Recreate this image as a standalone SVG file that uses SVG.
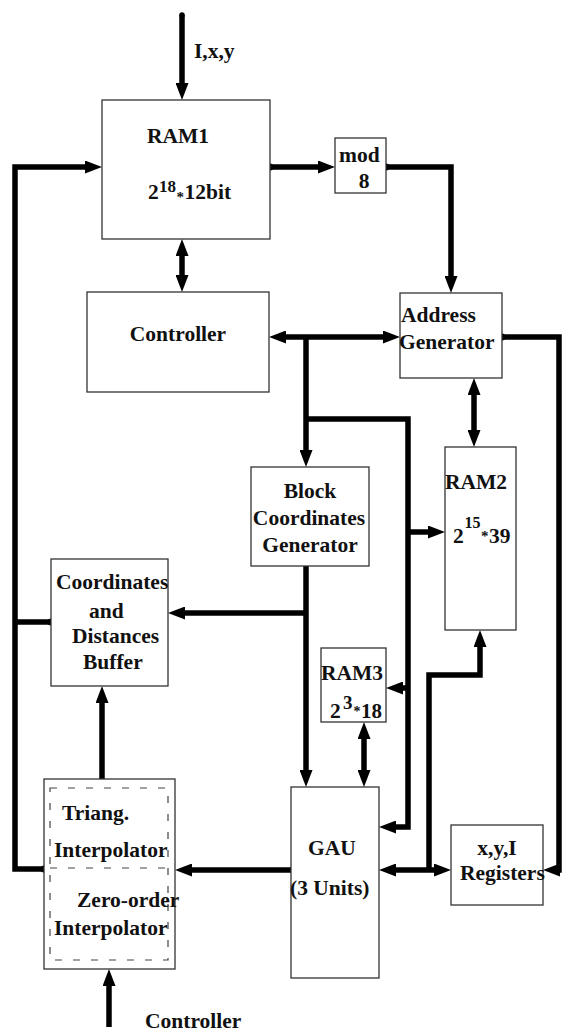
<svg xmlns="http://www.w3.org/2000/svg" width="563" height="1032" viewBox="0 0 563 1032">
<style>
.box{fill:#fff;stroke:#333;stroke-width:1.3}
.dash{fill:none;stroke:#444;stroke-width:1.2;stroke-dasharray:7 11}
.t{font-family:"Liberation Serif","Times New Roman",serif;font-weight:bold;font-size:21.5px;fill:#111}
.c{text-anchor:middle}
.w{fill:none;stroke:#000;stroke-width:5.5;stroke-linejoin:miter;stroke-linecap:butt}
.a{marker-end:url(#ah)}
.b{marker-start:url(#ah);marker-end:url(#ah)}
.dot{fill:#000}
</style>
<defs>
<marker id="ah" viewBox="0 0 17 13" refX="9" refY="6.5" markerWidth="17" markerHeight="13" markerUnits="userSpaceOnUse" orient="auto-start-reverse">
<path d="M0,0 L17,6.5 L0,13 z" fill="#000"/>
</marker>
</defs>
<rect width="563" height="1032" fill="#fff"/>

<g id="connectors">
<path class="w a" d="M182,15 V92"/>
<circle class="dot" cx="182" cy="15" r="2.75"/>
<path class="w a" d="M44,869 H15 V167 H94"/>
<path class="w" d="M15,622 H51"/>
<path class="w a" d="M270,167 H327"/>
<path class="w a" d="M386,167 H451 V285"/>
<path class="w b" d="M182,247 V284"/>
<path class="w b" d="M277,337 H392"/>
<path class="w a" d="M306,337 V459"/>
<path class="w a" d="M306,419 H408 V827 H387"/>
<path class="w a" d="M408,532 H437"/>
<path class="w a" d="M408,688 H394"/>
<path class="w b" d="M474,386 V439"/>
<path class="w a" d="M502,337 H559 V870 H551"/>
<path class="w a" d="M306,566 V779"/>
<path class="w a" d="M306,613 H176"/>
<path class="w b" d="M364,730 V779"/>
<path class="w b" d="M387,870 H443"/>
<path class="w a" d="M429,870 V675 H480 V638"/>
<path class="w a" d="M293,870 H183"/>
<path class="w a" d="M102,779 V694"/>
<path class="w a" d="M109,1027 V977"/>
<circle class="dot" cx="270" cy="167" r="3.5"/>
<circle class="dot" cx="386" cy="167" r="3.5"/>
<circle class="dot" cx="502" cy="337" r="3.5"/>
<circle class="dot" cx="51" cy="622" r="3.5"/>
<circle class="dot" cx="44" cy="869" r="3.5"/>
<circle class="dot" cx="293" cy="870" r="3.5"/>
<text class="t" x="194" y="58">I,x,y</text>
<text class="t" x="145" y="1028">Controller</text>
</g>

<g id="ram1">
<rect class="box" x="102" y="100" width="168" height="139"/>
<text class="t c" x="178" y="143">RAM1</text>
<text class="t"><tspan x="148" y="199">2</tspan><tspan x="159" y="192" font-size="17">18</tspan><tspan x="176.5" y="202" font-size="15">*</tspan><tspan x="184.5" y="199">12bit</tspan></text>
</g>

<g id="mod8">
<rect class="box" x="335" y="138" width="51" height="55"/>
<text class="t" x="339" y="162">mod</text>
<text class="t c" x="364" y="188">8</text>
</g>

<g id="controller">
<rect class="box" x="87" y="292" width="182" height="100"/>
<text class="t c" x="178" y="341">Controller</text>
</g>

<g id="addrgen">
<rect class="box" x="400" y="293" width="102" height="85"/>
<text class="t" x="401" y="322">Address</text>
<text class="t" x="399" y="349">Generator</text>
</g>

<g id="ram2">
<rect class="box" x="445" y="447" width="71" height="183"/>
<text class="t c" x="476" y="489">RAM2</text>
<text class="t"><tspan x="453" y="543">2</tspan><tspan x="464.5" y="528" font-size="16">15</tspan><tspan x="481" y="541" font-size="15">*</tspan><tspan x="489" y="543">39</tspan></text>
</g>

<g id="blockgen">
<rect class="box" x="251" y="467" width="118" height="99"/>
<text class="t c" x="310" y="498">Block</text>
<text class="t c" x="309" y="525">Coordinates</text>
<text class="t c" x="310" y="552">Generator</text>
</g>

<g id="buffer">
<rect class="box" x="51" y="559" width="117" height="127"/>
<text class="t" x="56" y="589">Coordinates</text>
<text class="t" x="89" y="618">and</text>
<text class="t" x="72" y="643">Distances</text>
<text class="t" x="83" y="669">Buffer</text>
</g>

<g id="ram3">
<rect class="box" x="321" y="648" width="65" height="74"/>
<text class="t" x="321" y="680">RAM3</text>
<text class="t"><tspan x="330" y="718">2</tspan><tspan x="343" y="709" font-size="19">3</tspan><tspan x="353.5" y="716" font-size="14">*</tspan><tspan x="361" y="718" font-size="21">18</tspan></text>
</g>

<g id="gau">
<rect class="box" x="291" y="787" width="88" height="191"/>
<text class="t c" x="332" y="855">GAU</text>
<text class="t" x="290" y="895">(3 Units)</text>
</g>

<g id="registers">
<rect class="box" x="451" y="825" width="92" height="80"/>
<text class="t c" x="497" y="855">x,y,I</text>
<text class="t" x="460" y="880">Registers</text>
</g>

<g id="interpolator">
<rect class="box" x="44" y="779" width="131" height="190"/>
<rect class="dash" x="50" y="788" width="118" height="172"/>
<line class="dash" x1="50" y1="868" x2="168" y2="868"/>
<text class="t" x="62" y="820">Triang.</text>
<text class="t" x="54" y="857">Interpolator</text>
<text class="t" x="77" y="907">Zero-order</text>
<text class="t" x="54" y="935">Interpolator</text>
</g>
</svg>
